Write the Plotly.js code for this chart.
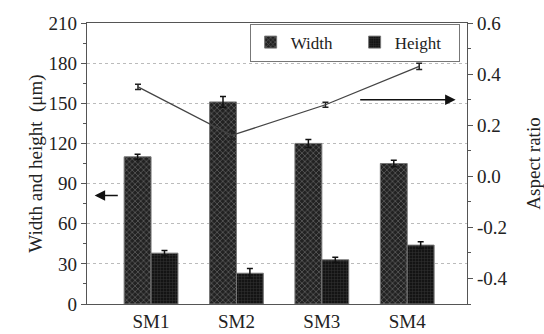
<!DOCTYPE html>
<html><head><meta charset="utf-8">
<script src="https://cdn.plot.ly/plotly-3.0.1.min.js"></script>
<style>html,body{margin:0;padding:0;background:#fff}#c{width:544px;height:334px}</style>
</head><body><div id="c"></div>
<script>
const categories = ['SM1','SM2','SM3','SM4'];
const widthVals = [110, 151, 120, 105];
const widthErr = [2, 4, 3, 2.5];
const heightVals = [38, 23, 33, 44];
const heightErr = [2, 3.5, 2, 2.5];
const aspectVals = [0.35, 0.16, 0.28, 0.43];
const aspectErr = [0.01, 0.015, 0.01, 0.012];
const rightTickVals = [-0.4, -0.2, 0.0, 0.2, 0.4, 0.6];
const rightTickText = ['-0.4', '-0.2', '0.0', '0.2', '0.4', '0.6'];

const fam = '"Liberation Serif", "Times New Roman", serif';
const font = {family:fam, size:19, color:'#222'};

const traces = [
  {type:'bar', name:'Width', x:categories, y:widthVals,
   error_y:{type:'data', array:widthErr, color:'#111', thickness:1.5, width:3},
   marker:{color:'#2a2a2a', line:{color:'#777', width:1},
     pattern:{shape:'x', fgcolor:'#555', bgcolor:'#222', size:4, solidity:0.4}}},
  {type:'bar', name:'Height', x:categories, y:heightVals,
   error_y:{type:'data', array:heightErr, color:'#111', thickness:1.5, width:3},
   marker:{color:'#1a1a1a', line:{color:'#777', width:1},
     pattern:{shape:'+', fgcolor:'#333', bgcolor:'#141414', size:3, solidity:0.3}}},
  {type:'scatter', mode:'lines', name:'Aspect ratio', x:categories, y:aspectVals,
   xaxis:'x2', yaxis:'y2', showlegend:false,
   line:{color:'#444', width:1.3},
   error_y:{type:'data', array:aspectErr, color:'#222', thickness:1.5, width:3}}
];

const layout = {
  width:544, height:334,
  margin:{l:87, r:77, t:23, b:30},
  paper_bgcolor:'#fff', plot_bgcolor:'#fff',
  font:font,
  barmode:'group', bargap:0.37, bargroupgap:0,
  xaxis:{type:'category', range:[-0.75, 3.7], showline:true, mirror:true, linecolor:'#555', linewidth:1.2,
    ticks:'', showgrid:false, tickfont:font, zeroline:false},
  xaxis2:{type:'category', overlaying:'x', range:[-0.544, 3.51], visible:false},
  yaxis:{range:[0,210], dtick:30, tick0:0, showline:true, linecolor:'#555', linewidth:1.2,
    ticks:'outside', ticklen:5, tickcolor:'#555', tickfont:font, zeroline:false,
    showgrid:true, gridcolor:'#bbb', griddash:'dot', gridwidth:1,
    minor:{dtick:15, ticklen:3, tickcolor:'#555', showgrid:false},
    title:{text:'Width and height  (μm)', font:{family:fam, size:19, color:'#222'}, standoff:0}},
  yaxis2:{overlaying:'y', side:'right', range:[-0.5,0.6], tickmode:'array',
    tickvals:rightTickVals, ticktext:rightTickText,
    showline:true, linecolor:'#555', linewidth:1.2, ticks:'outside', ticklen:5, tickcolor:'#555',
    tickfont:font, showgrid:false, zeroline:false,
    minor:{tickmode:'linear', dtick:0.1, tick0:0, ticklen:3, tickcolor:'#555', showgrid:false},
    title:{text:'Aspect ratio', font:{family:fam, size:19, color:'#222'}, standoff:20}},
  legend:{x:0.428, y:0.998, xanchor:'left', yanchor:'top', orientation:'h',
    bordercolor:'#777', borderwidth:1, bgcolor:'#fff', font:{family:fam, size:17, color:'#222'},
    itemwidth:30, entrywidth:59, tracegroupgap:0},
  annotations:[
    {xref:'paper', yref:'y', x:0.02, y:81, ax:0.085, ay:81, axref:'paper', ayref:'y',
     showarrow:true, arrowhead:2, arrowsize:1.4, arrowwidth:1.5, arrowcolor:'#111', text:''},
    {xref:'paper', yref:'y2', x:0.97, y:0.3, ax:0.715, ay:0.3, axref:'paper', ayref:'y2',
     showarrow:true, arrowhead:2, arrowsize:1.4, arrowwidth:1.5, arrowcolor:'#111', text:''}
  ]
};

Plotly.newPlot('c', traces, layout, {displayModeBar:false, staticPlot:true});
</script>
</body></html>
